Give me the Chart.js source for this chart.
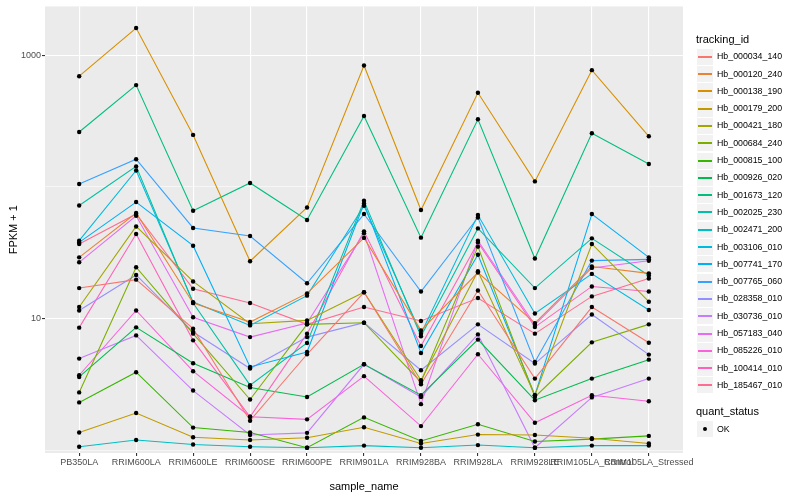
<!DOCTYPE html>
<html><head><meta charset="utf-8">
<script src="https://cdn.jsdelivr.net/npm/chart.js@4"></script>
<style>
body{margin:0;background:#fff;}
#wrap{position:relative;width:800px;height:500px;font-family:"Liberation Sans",Arial,sans-serif;overflow:hidden;}
canvas{position:absolute;left:0;top:0;}
.lt{position:absolute;font-size:11px;color:#000;white-space:nowrap;line-height:13px;}
.key{position:absolute;width:16px;height:16px;background:#F2F2F2;}
.key i{position:absolute;left:1px;width:14px;top:7px;height:2px;display:block;}
.key b{position:absolute;left:6px;top:6px;width:4px;height:4px;border-radius:2px;background:#000;display:block;}
.lab{position:absolute;font-size:8.8px;color:#000;white-space:nowrap;line-height:11px;}
</style></head>
<body><div id="wrap"><canvas id="c" width="800" height="500"></canvas></div>
<script>
const categories = ["PB350LA","RRIM600LA","RRIM600LE","RRIM600SE","RRIM600PE","RRIM901LA","RRIM928BA","RRIM928LA","RRIM928LE","RRIM105LA_Control","RRIM105LA_Stressed"];
const trackingIds = ["Hb_000034_140","Hb_000120_240","Hb_000138_190","Hb_000179_200","Hb_000421_180","Hb_000684_240","Hb_000815_100","Hb_000926_020","Hb_001673_120","Hb_002025_230","Hb_002471_200","Hb_003106_010","Hb_007741_170","Hb_007765_060","Hb_028358_010","Hb_030736_010","Hb_057183_040","Hb_085226_010","Hb_100414_010","Hb_185467_010"];
const seriesColors = ["#F8766D","#EA8331","#D89000","#C09B00","#A3A500","#7CAE00","#39B600","#00BB4E","#00BF7D","#00C1A3","#00BFC4","#00BAE0","#00B0F6","#35A2FF","#9590FF","#C77CFF","#E76BF3","#FA62DB","#FF62BC","#FF6C91"];

const Hb_000034_140 = [17.0, 19.7, 8.36, 1.67, 5.34, 15.8, 3.16, 16.3, 3.49, 12.2, 6.54];
const Hb_000120_240 = [29.1, 63.2, 13.1, 9.38, 15.5, 40.9, 8.11, 22.3, 9.21, 24.8, 22.0];
const Hb_000138_190 = [693, 1610, 248, 27.2, 69.7, 836, 66.6, 518, 110, 770, 242];
const Hb_000179_200 = [1.36, 1.91, 1.25, 1.19, 1.24, 1.49, 1.12, 1.31, 1.30, 1.23, 1.12];
const Hb_000421_180 = [12.2, 50.0, 19.1, 9.12, 9.66, 15.8, 3.39, 22.8, 2.61, 36.8, 13.4];
const Hb_000684_240 = [2.74, 24.5, 7.66, 2.42, 9.01, 9.28, 3.29, 35.1, 2.53, 6.58, 9.01];
const Hb_000815_100 = [2.30, 3.90, 1.48, 1.36, 1.04, 1.77, 1.17, 1.57, 1.16, 1.21, 1.28];
const Hb_000926_020 = [3.59, 8.55, 4.56, 2.99, 2.53, 4.48, 2.61, 6.90, 2.39, 3.49, 4.86];
const Hb_001673_120 = [261, 593, 65.8, 107, 56.0, 345, 41.1, 326, 28.5, 255, 149];
const Hb_002025_230 = [72.2, 143, 13.1, 3.11, 6.50, 78.3, 7.31, 48.3, 17.0, 40.6, 21.2];
const Hb_002471_200 = [1.06, 1.19, 1.10, 1.06, 1.04, 1.08, 1.04, 1.09, 1.04, 1.08, 1.08];
const Hb_003106_010 = [39.0, 133, 13.3, 8.85, 14.9, 71.8, 7.66, 61.0, 10.9, 21.8, 11.6];
const Hb_007741_170 = [37.8, 76.6, 35.7, 4.28, 5.55, 74.7, 5.46, 30.5, 2.61, 62.1, 29.1];
const Hb_007765_060 = [105, 162, 48.7, 42.3, 18.5, 62.1, 16.0, 58.5, 4.67, 27.5, 28.1];
const Hb_028358_010 = [11.5, 21.4, 7.88, 4.16, 7.21, 9.28, 4.04, 9.01, 4.54, 10.7, 5.31];
const Hb_030736_010 = [4.95, 7.43, 2.83, 1.30, 1.35, 4.48, 2.53, 7.56, 1.04, 2.51, 3.49];
const Hb_057183_040 = [26.7, 60.3, 10.2, 7.21, 9.21, 44.3, 2.23, 39.0, 8.96, 24.2, 27.4];
const Hb_085226_010 = [3.70, 11.5, 3.97, 1.79, 1.71, 3.64, 1.52, 5.34, 1.61, 2.61, 2.35];
const Hb_100414_010 = [8.51, 43.8, 6.81, 1.79, 7.66, 45.9, 6.17, 37.8, 8.59, 17.5, 16.0];
const Hb_185467_010 = [36.8, 62.1, 16.8, 13.1, 9.01, 12.2, 9.55, 14.3, 7.66, 14.7, 20.1];

const seriesValues = [Hb_000034_140, Hb_000120_240, Hb_000138_190, Hb_000179_200, Hb_000421_180, Hb_000684_240, Hb_000815_100, Hb_000926_020, Hb_001673_120, Hb_002025_230, Hb_002471_200, Hb_003106_010, Hb_007741_170, Hb_007765_060, Hb_028358_010, Hb_030736_010, Hb_057183_040, Hb_085226_010, Hb_100414_010, Hb_185467_010];

const yTicks = [1, 10, 100, 1000];
const yTickLabels = ["", "10", "", "1000"];

const FONT = "'Liberation Sans', Arial, sans-serif";

const datasets = seriesValues.map((vals, s) => ({
  label: trackingIds[s],
  data: vals.map((v, i) => ({x: i, y: v})),
  borderColor: seriesColors[s],
  borderWidth: 1.07,
  pointRadius: 0,
  tension: 0,
  fill: false,
  order: 1
}));
const allPoints = [];
seriesValues.forEach(vals => vals.forEach((v, i) => allPoints.push({x: i, y: v})));
datasets.push({
  label: 'OK',
  data: allPoints,
  showLine: false,
  pointRadius: 2.2,
  pointBackgroundColor: '#000',
  pointBorderWidth: 0,
  order: 0
});

const panelBg = {
  id: 'panelBg',
  beforeDraw(chart) {
    const {ctx, chartArea: a} = chart;
    ctx.save();
    ctx.fillStyle = '#EBEBEB';
    ctx.fillRect(a.left, a.top, a.right - a.left, a.bottom - a.top);
    ctx.restore();
  }
};

new Chart(document.getElementById('c'), {
  type: 'line',
  data: {datasets},
  plugins: [panelBg],
  options: {
    responsive: false,
    animation: false,
    devicePixelRatio: 1,
    layout: {padding: {left: 0, right: 117, top: 5, bottom: 0}},
    plugins: {legend: {display: false}, tooltip: {enabled: false}},
    scales: {
      x: {
        type: 'linear', min: -0.6, max: 10.6,
        afterBuildTicks: s => { s.ticks = categories.map((c, i) => ({value: i})); },
        afterFit: s => { s.height = 47; },
        ticks: {autoSkip: false, maxRotation: 0, minRotation: 0, padding: 1, color: '#4D4D4D',
          font: {family: FONT, size: 9}, callback: v => categories[v]},
        grid: {color: '#FFFFFF', lineWidth: 1.1, tickLength: 3, tickColor: '#333333'},
        border: {display: false},
        title: {display: true, text: 'sample_name', color: '#000', font: {family: FONT, size: 11}, padding: {top: 0, bottom: 6.4}}
      },
      y: {
        type: 'logarithmic', min: 0.949, max: 2350,
        afterBuildTicks: s => { s.ticks = yTicks.map(v => ({value: v})); },
        afterFit: s => { s.width = 45; },
        ticks: {padding: 1, color: '#4D4D4D', font: {family: FONT, size: 9},
          callback: (v, i) => yTickLabels[i]},
        grid: {color: '#FFFFFF',
          lineWidth: c => (yTickLabels[c.index] ? 1.1 : 0.55),
          tickLength: 3,
          tickColor: c => (yTickLabels[c.index] ? '#333333' : 'rgba(0,0,0,0)')},
        border: {display: false},
        title: {display: true, text: 'FPKM + 1', color: '#000', font: {family: FONT, size: 11}, padding: {top: 7.4, bottom: 0}}
      }
    }
  }
});

// legend
const wrap = document.getElementById('wrap');
function add(cls, style, html) {
  const d = document.createElement('div');
  d.className = cls;
  Object.assign(d.style, style);
  if (html !== undefined) d.innerHTML = html;
  wrap.appendChild(d);
  return d;
}
add('lt', {left: '696px', top: '33px'}, 'tracking_id');
trackingIds.forEach((id, i) => {
  const cy = 56.7 + 17.3 * i;
  add('key', {left: '697px', top: Math.round(cy - 8) + 'px'}, '<i style="background-color:' + seriesColors[i] + '"></i>');
  add('lab', {left: '717px', top: Math.round(cy - 5.5) + 'px'}, id);
});
add('lt', {left: '696px', top: '405px'}, 'quant_status');
add('key', {left: '697px', top: (429 - 8) + 'px'}, '<b></b>');
add('lab', {left: '717px', top: (429 - 5.5) + 'px'}, 'OK');
</script>
</body></html>
